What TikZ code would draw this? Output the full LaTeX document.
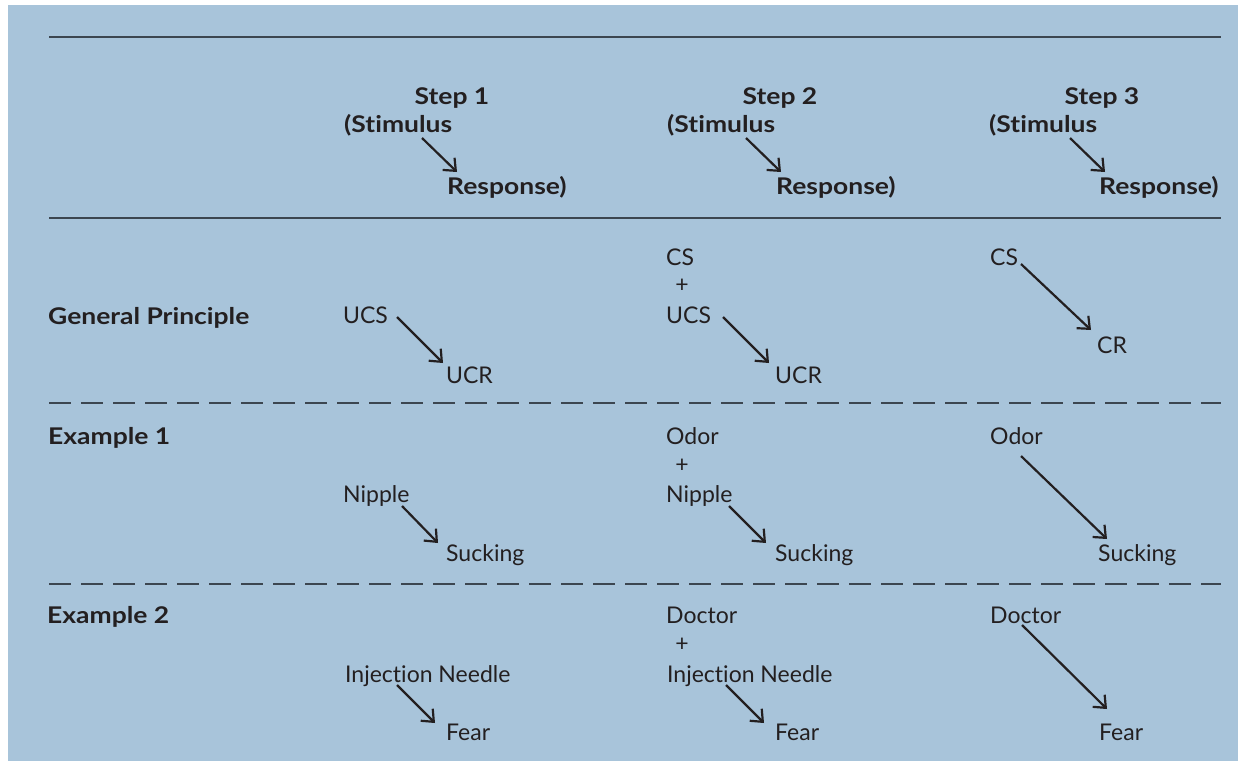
\documentclass[tikz,border=0pt]{standalone}
\usepackage{fontspec}
\setmainfont{Lato}[Ligatures=NoCommon]
\newfontfamily\hdrfont{Lato}[Ligatures=NoCommon,FakeStretch=1.15]
\usetikzlibrary{arrows.meta}
\definecolor{bgblue}{HTML}{A8C4DA}
\definecolor{rulegrey}{HTML}{3C4650}
\definecolor{ink}{HTML}{231F20}
\tikzset{
  txt/.style={anchor=base west, inner sep=0pt, text=ink, font=\fontsize{23}{27}\selectfont},
  hdr/.style={txt, font=\hdrfont\fontsize{23}{27}\selectfont\bfseries},
  hdrc/.style={hdr, anchor=base},
  plus/.style={anchor=center, inner sep=0pt, text=ink, font=\fontsize{23}{27}\selectfont},
  solidrule/.style={draw=rulegrey, line width=1.8pt},
  dashrule/.style={draw=rulegrey, line width=1.8pt, dash pattern=on 22pt off 10pt},
  conn/.style={draw=ink, line width=2.2pt, -{Straight Barb[length=10pt,width=17pt,line width=2.2pt]}}
}
\begin{document}
\begin{tikzpicture}[x=1pt,y=-1pt]
\useasboundingbox (0,0) rectangle (1238,761);
\fill[bgblue] (8,5) rectangle (1238,761);
% rules
\coordinate (r1a) at (49,37);  \coordinate (r1b) at (1221,37);
\coordinate (r2a) at (49,218); \coordinate (r2b) at (1221,218);
\coordinate (r3a) at (49,403); \coordinate (r3b) at (1221,403);
\coordinate (r4a) at (49,584); \coordinate (r4b) at (1221,584);
\draw[solidrule] (r1a) -- (r1b);
\draw[solidrule] (r2a) -- (r2b);
\draw[dashrule] (r3a) -- (r3b);
\draw[dashrule] (r4a) -- (r4b);
% headers
\node[hdrc] (st1) at (452,104) {Step 1};
\node[hdr] (sm1) at (344,132) {(Stimulus};
\node[hdr] (rs1) at (447,194) {Response)};
\node[hdrc] (st2) at (780,104) {Step 2};
\node[hdr] (sm2) at (667,132) {(Stimulus};
\node[hdr] (rs2) at (776,194) {Response)};
\node[hdrc] (st3) at (1102,104) {Step 3};
\node[hdr] (sm3) at (989,132) {(Stimulus};
\node[hdr] (rs3) at (1099,194) {Response)};
\coordinate (h1s) at (422,138); \coordinate (h1e) at (457,172);
\coordinate (h2s) at (746,138); \coordinate (h2e) at (781,172);
\coordinate (h3s) at (1070,138); \coordinate (h3e) at (1105,172);
\draw[conn] (h1s) -- (h1e);
\draw[conn] (h2s) -- (h2e);
\draw[conn] (h3s) -- (h3e);
% row labels
\node[hdr] (gp) at (48,324) {General Principle};
\node[hdr] (ex1) at (48,444) {Example 1};
\node[hdr] (ex2) at (47,623) {Example 2};
% General principle
\node[txt] (ucs1) at (343,323) {UCS};
\node[txt] (ucr1) at (446,383) {UCR};
\node[txt] (cs2) at (666,265) {CS};
\node[plus] (p2a) at (682,286) {+};
\node[txt] (ucs2) at (666,323) {UCS};
\node[txt] (ucr2) at (775,383) {UCR};
\node[txt] (cs3) at (990,265) {CS};
\node[txt] (cr3) at (1097,353) {CR};
\coordinate (g1s) at (397,317); \coordinate (g1e) at (443,363);
\coordinate (g2s) at (723,317); \coordinate (g2e) at (769,363);
\coordinate (g3s) at (1021,264); \coordinate (g3e) at (1091,330);
\draw[conn] (g1s) -- (g1e);
\draw[conn] (g2s) -- (g2e);
\draw[conn] (g3s) -- (g3e);
% Example 1
\node[txt] (nip1) at (343,502) {Nipple};
\node[txt] (suc1) at (446,561) {Sucking};
\node[txt] (odo2) at (666,444) {Odor};
\node[plus] (p2b) at (682,466) {+};
\node[txt] (nip2) at (666,502) {Nipple};
\node[txt] (suc2) at (775,561) {Sucking};
\node[txt] (odo3) at (990,444) {Odor};
\node[txt] (suc3) at (1098,561) {Sucking};
\coordinate (e1s) at (402,506); \coordinate (e1e) at (438,543);
\coordinate (e2s) at (729,506); \coordinate (e2e) at (766,543);
\coordinate (e3s) at (1021,456); \coordinate (e3e) at (1107,539);
\draw[conn] (e1s) -- (e1e);
\draw[conn] (e2s) -- (e2e);
\draw[conn] (e3s) -- (e3e);
% Example 2
\node[txt] (inj1) at (345,682) {Injection Needle};
\node[txt] (fea1) at (446,740) {Fear};
\node[txt] (doc2) at (666,623) {Doctor};
\node[plus] (p2c) at (682,645) {+};
\node[txt] (inj2) at (667,682) {Injection Needle};
\node[txt] (fea2) at (775,740) {Fear};
\node[txt] (doc3) at (990,623) {Doctor};
\node[txt] (fea3) at (1099,740) {Fear};
\coordinate (x1s) at (397,685); \coordinate (x1e) at (435,723);
\coordinate (x2s) at (726,685); \coordinate (x2e) at (764,723);
\coordinate (x3s) at (1022,625); \coordinate (x3e) at (1107,709);
\draw[conn] (x1s) -- (x1e);
\draw[conn] (x2s) -- (x2e);
\draw[conn] (x3s) -- (x3e);
\end{tikzpicture}
\end{document}
